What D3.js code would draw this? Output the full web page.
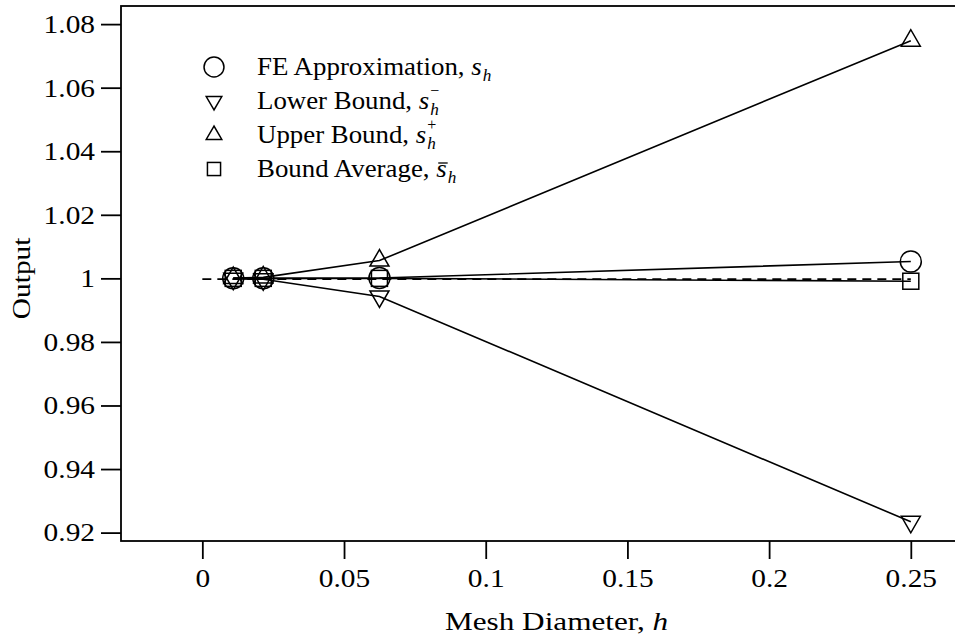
<!DOCTYPE html>
<html>
<head>
<meta charset="utf-8">
<script src="https://cdn.jsdelivr.net/npm/d3@7"></script>
<style>
  html, body { margin: 0; padding: 0; background: #fff; }
  svg { display: block; }
  text { font-family: "Liberation Serif", "DejaVu Serif", serif; fill: #000; }
</style>
</head>
<body>
<svg id="chart" width="955" height="640"></svg>
<script>
// Mesh diameters and the outputs computed on each mesh
const hValues      = [0.0109, 0.0215, 0.0625, 0.25];
const feApprox     = [1.0000, 1.0000, 1.0001, 1.0053];
const lowerBound   = [0.9999, 0.9997, 0.9943, 0.9234];
const upperBound   = [1.0001, 1.0003, 1.0056, 1.0748];
const boundAverage = [1.0000, 1.0000, 1.0000, 0.9991];
// Reference (exact) output, drawn dashed across the mesh range
const exactH       = [0, 0.25];
const exactOutput  = [0.99975, 0.99975];

const xTickValues = [0, 0.05, 0.1, 0.15, 0.2, 0.25];
const xTickLabels = ["0", "0.05", "0.1", "0.15", "0.2", "0.25"];
const yTickValues = [0.92, 0.94, 0.96, 0.98, 1.0, 1.02, 1.04, 1.06, 1.08];
const yTickLabels = ["0.92", "0.94", "0.96", "0.98", "1", "1.02", "1.04", "1.06", "1.08"];

const legendSymbols = ["circle", "triDown", "triUp", "square"];
const legendLabels  = ["FE Approximation, ", "Lower Bound, ", "Upper Bound, ", "Bound Average, "];
const legendScripts = ["", "\u2212", "+", "bar"];

const svg = d3.select("#chart");
const frame = { left: 121, right: 957, top: 6, bottom: 541 };

const x = d3.scaleLinear().domain([-0.0287, 0.2663]).range([frame.left, frame.right]);
const y = d3.scaleLinear().domain([0.91736, 1.0857]).range([frame.bottom, frame.top]);

const lineW = 1.6, markW = 1.5;
const FONT = '"Liberation Serif", "DejaVu Serif", serif';
const WIDEN = 1.13;

// widen text horizontally to the figure's typeface proportions
function widen(sel, k = WIDEN) {
  sel.each(function () {
    const L = this.getComputedTextLength();
    d3.select(this).attr("textLength", L * k).attr("lengthAdjust", "spacingAndGlyphs");
  });
}

// frame
svg.append("rect")
  .attr("x", frame.left).attr("y", frame.top)
  .attr("width", frame.right - frame.left).attr("height", frame.bottom - frame.top)
  .attr("fill", "none").attr("stroke", "#000").attr("stroke-width", 1.8);

// axes
const yAxis = svg.append("g")
  .attr("transform", `translate(${frame.left},0)`)
  .call(d3.axisLeft(y).tickValues(yTickValues)
    .tickFormat((d, i) => yTickLabels[i]).tickSize(20).tickSizeOuter(0).tickPadding(6));
const xAxis = svg.append("g")
  .attr("transform", `translate(0,${frame.bottom})`)
  .call(d3.axisBottom(x).tickValues(xTickValues)
    .tickFormat((d, i) => xTickLabels[i]).tickSize(18).tickSizeOuter(0).tickPadding(10));

[yAxis, xAxis].forEach(g => {
  g.attr("font-family", null).attr("font-size", null);
  g.select(".domain").remove();
  g.selectAll(".tick line").attr("stroke", "#000").attr("stroke-width", 1.8);
  g.selectAll(".tick text")
    .style("font-family", FONT).style("font-size", "26px").attr("fill", "#000")
    .call(widen);
});

// axis titles
const xTitle = svg.append("text")
  .attr("x", x(0.125)).attr("y", 630)
  .attr("text-anchor", "middle").style("font-size", "26px")
  .attr("xml:space", "preserve");
xTitle.append("tspan").text("Mesh Diameter, ");
xTitle.append("tspan").attr("font-style", "italic").text("h");
widen(xTitle, 1.2);

svg.append("text")
  .attr("transform", `translate(30,${y(1.0)}) rotate(-90)`)
  .attr("text-anchor", "middle").style("font-size", "26px")
  .text("Output")
  .call(widen);

// series lines
const seriesLine = (vals) => d3.line().x((d, i) => x(hValues[i])).y(d => y(d))(vals);
const lines = svg.append("g").attr("fill", "none").attr("stroke", "#000");
[feApprox, lowerBound, upperBound, boundAverage].forEach(vals => {
  lines.append("path").attr("d", seriesLine(vals)).attr("stroke-width", lineW);
});
lines.append("path")
  .attr("d", d3.line().x((d, i) => x(exactH[i])).y(d => y(d))(exactOutput))
  .attr("stroke-width", lineW).attr("stroke-dasharray", "9,6");

// marker shapes
function drawMarker(g, type, cx, cy, scale = 1) {
  if (type === "circle") {
    g.append("circle").attr("cx", cx).attr("cy", cy).attr("r", 10.5 * scale);
  } else if (type === "square") {
    const s = 16 * scale;
    g.append("rect").attr("x", cx - s / 2).attr("y", cy - s / 2).attr("width", s).attr("height", s);
  } else {
    const w = 19 * scale, h = w * Math.sqrt(3) / 2;
    const dir = type === "triUp" ? 1 : -1;
    const pts = [[cx, cy - dir * 2 * h / 3], [cx - w / 2, cy + dir * h / 3], [cx + w / 2, cy + dir * h / 3]];
    g.append("path").attr("d", "M" + pts.map(p => p.join(",")).join("L") + "Z");
  }
}

const marks = svg.append("g").attr("fill", "none").attr("stroke", "#000").attr("stroke-width", markW);
const seriesSym = [[feApprox, "circle"], [lowerBound, "triDown"], [upperBound, "triUp"], [boundAverage, "square"]];
seriesSym.forEach(([vals, sym]) => {
  vals.forEach((v, i) => drawMarker(marks, sym, x(hValues[i]), y(v)));
});

// legend
const legend = svg.append("g");
const legX = 214, legTextX = 257, legY0 = 67, legDy = 34;
legendLabels.forEach((label, i) => {
  const cy = legY0 + i * legDy;
  const sym = legendSymbols[i], script = legendScripts[i];
  const mg = legend.append("g").attr("fill", "none").attr("stroke", "#000").attr("stroke-width", markW);
  drawMarker(mg, sym, legX, cy, sym === "circle" ? 0.95 : 0.82);

  // main label with italic s and subscript h
  const t = legend.append("text").attr("x", legTextX).attr("y", cy + 8)
    .attr("xml:space", "preserve").style("font-size", "25px");
  t.append("tspan").text(label);
  t.append("tspan").attr("font-style", "italic").text("s");
  t.append("tspan").attr("font-style", "italic").style("font-size", "16px")
    .attr("dx", 1).attr("dy", 6).text("h");
  widen(t, 1.08);

  const n = t.node();
  const sBox = n.getExtentOfChar(label.length);   // the italic s
  if (script === "\u2212" || script === "+") {
    // superscript sign stacked above the subscript
    legend.append("text")
      .attr("x", sBox.x + sBox.width + 1).attr("y", cy - 5)
      .style("font-size", "16px").text(script);
  } else if (script === "bar") {
    legend.append("line")
      .attr("x1", sBox.x + 2).attr("x2", sBox.x + sBox.width + 1)
      .attr("y1", cy - 6).attr("y2", cy - 6)
      .attr("stroke", "#000").attr("stroke-width", 1.3);
  }
});
</script>
</body>
</html>
